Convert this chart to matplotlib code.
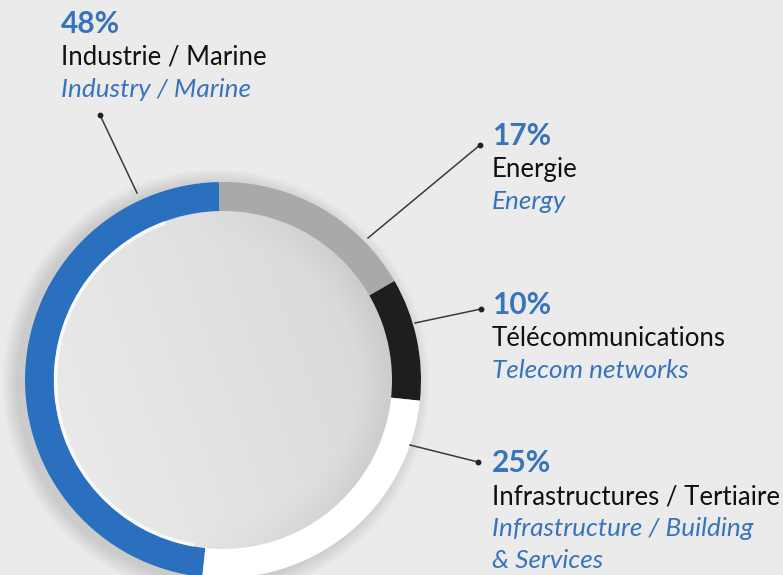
import numpy as np
import matplotlib.pyplot as plt
from matplotlib.patches import Circle, Arc

W, H = 783, 575

# segment shares, in drawing order (clockwise from the bottom of the ring)
shares = [48, 17, 10, 25]
labels_fr = ['Industrie / Marine', 'Energie', 'Télécommunications',
             'Infrastructures / Tertiaire']
labels_en = ['Industry / Marine', 'Energy', 'Telecom networks',
             'Infrastructure / Building\n& Services']
ring_colors = ['#2b6fbf', '#a9a9a9', '#1e1e1e', '#ffffff']

blue = '#3774bb'
bg = '#ebebeb'

# ring geometry in pixel units (y measured from the bottom)
cx, cy = 223, H - 380
r_out = 198
ring_w = 30

# label anchors (x, baseline of the percentage) and leader lines
label_pos = [(61, 33), (492, 145), (492, 314), (492, 472)]
leaders = [((137, 193), (100, 115)),
           ((368, 238), (480, 145)),
           ((415, 323), (481, 309)),
           ((410, 445), (478, 462))]

plt.rcParams['font.family'] = ['Lato', 'DejaVu Sans']

fig = plt.figure(figsize=(W / 100, H / 100), dpi=100, facecolor=bg)
ax = fig.add_axes([0, 0, 1, 1])
ax.set_facecolor(bg)

# soft drop shadow around the ring
for k in range(16):
    ax.add_patch(Circle((cx - 7, cy - 3), r_out + 16 - k, color='#9a9a9a',
                        alpha=0.022, lw=0, zorder=1))

wedges, _ = ax.pie(shares, colors=ring_colors, startangle=264,
                   counterclock=False, center=(cx, cy), radius=r_out,
                   wedgeprops=dict(width=ring_w, linewidth=0), frame=True)
for w in wedges:
    w.set_zorder(2)

# raised inner disc: light on the left, darker towards the right rim
r_in = r_out - ring_w + 1
n = 300
gx, gy = np.meshgrid(np.linspace(-1, 1, n), np.linspace(-1, 1, n))
t = np.clip((gx * 0.85 + gy * 0.3 + 1.15) / 2.3, 0, 1)
rr = np.sqrt(gx ** 2 + gy ** 2)
rim = np.clip((rr - 0.8) / 0.2, 0, 1) * np.clip(gx + 0.2, 0, 1)
v = 0.925 - 0.085 * t - 0.05 * rim
img = np.repeat(v[..., None], 3, axis=2)
im = ax.imshow(img, extent=(cx - r_in, cx + r_in, cy - r_in, cy + r_in),
               origin='lower', zorder=3, interpolation='bilinear')
im.set_clip_path(Circle((cx, cy), r_in, transform=ax.transData))

# thin highlight along the left edge of the disc
ax.add_patch(Arc((cx, cy), 2 * r_in - 3, 2 * r_in - 3, theta1=110,
                 theta2=260, color='white', lw=2.5, alpha=0.8, zorder=4))

# leader lines with end dots
for (x0, y0), (x1, y1) in leaders:
    ax.plot([x0, x1], [H - y0, H - y1], color='#3a3a3a', lw=1.1, zorder=5)
    ax.plot([x1], [H - y1], 'o', color='#222222', ms=3.2, zorder=6)

# labels: percentage, French name, English name
for (x, yb), s, fr, en in zip(label_pos, shares, labels_fr, labels_en):
    ax.text(x, H - yb, f'{s}%', color=blue, fontsize=21.5,
            fontweight='bold', va='baseline', ha='left')
    ax.text(x, H - yb - 32, fr, color='#111111', fontsize=18.5,
            va='baseline', ha='left')
    for i, line in enumerate(en.split('\n')):
        ax.text(x, H - yb - 64 - 32 * i, line, color=blue, fontsize=18.8,
                style='italic', va='baseline', ha='left')

ax.set_xlim(0, W)
ax.set_ylim(0, H)
ax.set_aspect('equal')
ax.axis('off')

fig.savefig('out.png', dpi=100, facecolor=bg)
